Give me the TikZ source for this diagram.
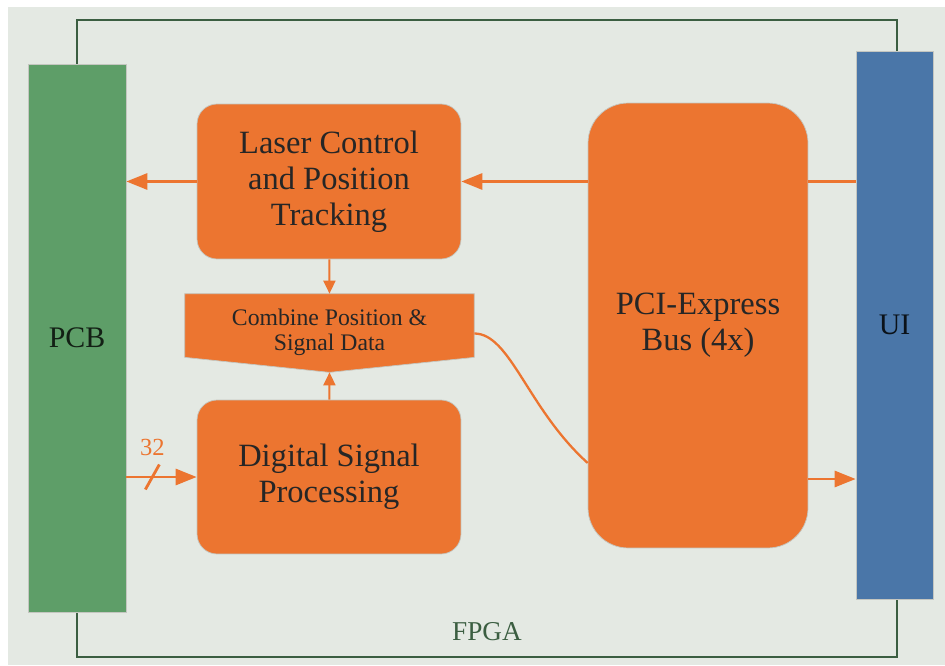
\documentclass[tikz,border=0pt]{standalone}
\usepackage{fontspec}
\setmainfont{Liberation Serif}
\usetikzlibrary{arrows.meta}

\definecolor{bg}{HTML}{E4E9E3}
\definecolor{frame}{HTML}{3B5E41}
\definecolor{pcbgreen}{HTML}{5E9E68}
\definecolor{uiblue}{HTML}{4A76A8}
\definecolor{boxorange}{HTML}{EC7530}
\definecolor{edge}{HTML}{C4C6C0}

\begin{document}
\begin{tikzpicture}[x=0.02cm, y=-0.02cm,
    block/.style={fill=boxorange, draw=edge, thin, rounded corners=0.4cm, minimum width=5.28cm, minimum height=3.1cm, align=center, text=black!85, font=\fontsize{18.5}{20.5}\selectfont},
    bar/.style={draw=edge, thin, minimum height=10.96cm, font=\fontsize{17}{20}\selectfont},
    flow/.style={boxorange, line width=1.6pt, -{Triangle[length=0.42cm, width=0.32cm]}},
    link/.style={boxorange, line width=1.1pt, -{Triangle[length=0.26cm, width=0.24cm]}}]
    \useasboundingbox (0, 0) rectangle (945, 665);
    \fill[bg] (8, 7) rectangle (945, 665);

    % FPGA outline
    \draw[frame, line width=1.4pt] (77, 20) rectangle (897, 657);
    \node[frame, font=\fontsize{15.5}{18}\selectfont] at (487, 632) (fpga) {FPGA};

    \node[bar, fill=pcbgreen, minimum width=1.96cm, text=black!80!pcbgreen] at (77, 338) (pcb) {PCB};
    \node[bar, fill=uiblue, minimum width=1.54cm, text=black!85!uiblue] at (894.5, 325) (ui) {UI};

    \node[block] at (329, 181.5) (laser) {Laser Control\\and Position\\Tracking};
    \node[block, minimum height=3.08cm] at (329, 477) (dsp) {Digital Signal\\Processing};
    \node[block, rounded corners=0.8cm, minimum width=4.4cm, minimum height=8.9cm] at (698, 325.5) (pci) {PCI-Express\\Bus (4x)};

    % combine stage, drawn as a pentagon
    \node[minimum width=5.78cm, minimum height=1.26cm, inner sep=0pt] at (329.5, 325.5) (comb) {};
    \fill[boxorange, draw=edge, thin] (comb.north west) -- (comb.north east) -- (comb.south east)
        -- ([yshift=-0.3cm]comb.south) -- (comb.south west) -- cycle;
    \node[align=center, text=black!85, font=\fontsize{13.5}{14.5}\selectfont] at ([yshift=-0.14cm]comb.center) (combtext) {Combine Position \&\\Signal Data};

    \draw[flow] (laser) -- (pcb.east |- laser);
    \draw[flow] (pci.west |- laser) -- (laser);
    \draw[boxorange, line width=1.6pt] (ui.west |- laser) -- (pci.east |- laser);
    \draw[flow] (pci.east |- 0, 479) -- (ui.west |- 0, 479);
    \draw[flow] (pcb.east |- dsp) -- coordinate[pos=0.37] (bus) (dsp);
    \draw[boxorange, line width=1.6pt] ([shift={(-0.14cm, -0.25cm)}]bus) -- ([shift={(0.14cm, 0.25cm)}]bus);
    \node[boxorange, font=\fontsize{14}{16}\selectfont] at ([yshift=0.6cm]bus) (width) {32};

    \draw[link] (laser) -- (comb.north);
    \draw[link] (dsp) -- ([yshift=-0.3cm]comb.south);
    \draw[boxorange, line width=1.3pt] ([yshift=-0.16cm]comb.east) .. controls +(0.72cm, 0) and +(-1.2cm, 1.08cm) .. ([yshift=-2.75cm]pci.west);
\end{tikzpicture}
\end{document}
